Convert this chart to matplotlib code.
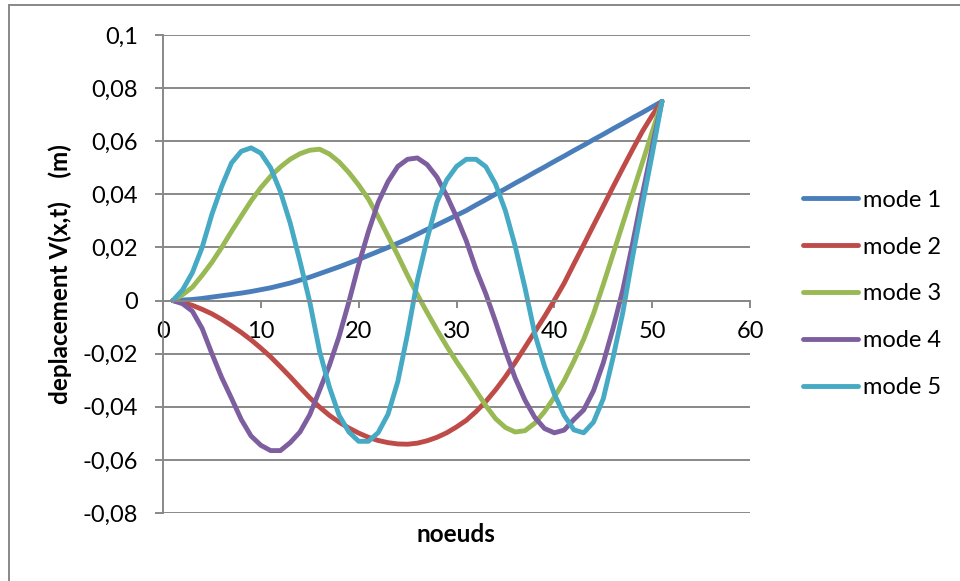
"""Deplacement V(x,t) des 5 premiers modes le long des noeuds."""

import matplotlib

matplotlib.use("Agg")
import matplotlib.pyplot as plt
from matplotlib.patches import Rectangle

plt.rcParams["font.family"] = ["Lato", "DejaVu Sans"]

# ---- donnees (noeuds 1 a 51) ----
NODES = list(range(1, 52))

MODE1_Y = [0.0, 0.0002, 0.0004, 0.0008, 0.0013, 0.0018, 0.0023, 0.0028, 0.0034, 0.0041,
           0.0048, 0.0057, 0.0066, 0.0077, 0.0088, 0.0101, 0.0114, 0.0127, 0.0141, 0.0155,
           0.0170, 0.0185, 0.0200, 0.0216, 0.0232, 0.0250, 0.0268, 0.0285, 0.0303, 0.0321,
           0.0339, 0.0360, 0.0380, 0.0401, 0.0421, 0.0442, 0.0462, 0.0483, 0.0503, 0.0524,
           0.0544, 0.0565, 0.0585, 0.0606, 0.0626, 0.0647, 0.0667, 0.0688, 0.0708, 0.0729,
           0.0750]

MODE2_Y = [0.0, -0.0008, -0.0018, -0.0033, -0.0050, -0.0071, -0.0095, -0.0120, -0.0148, -0.0179,
           -0.0212, -0.0249, -0.0287, -0.0327, -0.0366, -0.0401, -0.0432, -0.0458, -0.0480, -0.0499,
           -0.0515, -0.0527, -0.0535, -0.0540, -0.0541, -0.0537, -0.0528, -0.0515, -0.0498, -0.0476,
           -0.0451, -0.0418, -0.0380, -0.0336, -0.0287, -0.0233, -0.0176, -0.0118, -0.0060, 0.0001,
           0.0065, 0.0138, 0.0210, 0.0283, 0.0355, 0.0428, 0.0499, 0.0569, 0.0637, 0.0697,
           0.0750]

MODE3_Y = [0.0, 0.0022, 0.0050, 0.0095, 0.0144, 0.0200, 0.0260, 0.0318, 0.0375, 0.0425,
           0.0468, 0.0503, 0.0532, 0.0553, 0.0566, 0.0570, 0.0552, 0.0522, 0.0482, 0.0435,
           0.0382, 0.0315, 0.0243, 0.0170, 0.0094, 0.0022, -0.0045, -0.0110, -0.0172, -0.0230,
           -0.0284, -0.0340, -0.0396, -0.0445, -0.0478, -0.0495, -0.0490, -0.0462, -0.0418, -0.0364,
           -0.0302, -0.0228, -0.0146, -0.0050, 0.0060, 0.0175, 0.0290, 0.0405, 0.0520, 0.0635,
           0.0750]

MODE4_Y = [0.0, -0.0012, -0.0040, -0.0105, -0.0200, -0.0290, -0.0368, -0.0448, -0.0510, -0.0545,
           -0.0565, -0.0565, -0.0535, -0.0495, -0.0430, -0.0338, -0.0245, -0.0135, -0.0005, 0.0135,
           0.0260, 0.0370, 0.0448, 0.0505, 0.0532, 0.0537, 0.0512, 0.0465, 0.0395, 0.0315,
           0.0225, 0.0117, 0.0025, -0.0080, -0.0190, -0.0292, -0.0375, -0.0440, -0.0482, -0.0498,
           -0.0488, -0.0448, -0.0412, -0.0340, -0.0235, -0.0105, 0.0040, 0.0215, 0.0400, 0.0578,
           0.0750]

MODE5_Y = [0.0, 0.0040, 0.0105, 0.0200, 0.0325, 0.0430, 0.0518, 0.0562, 0.0575, 0.0555,
           0.0500, 0.0410, 0.0292, 0.0148, -0.0005, -0.0190, -0.0325, -0.0432, -0.0495, -0.0530,
           -0.0530, -0.0497, -0.0428, -0.0305, -0.0125, 0.0076, 0.0232, 0.0370, 0.0454, 0.0505,
           0.0532, 0.0532, 0.0504, 0.0438, 0.0338, 0.0205, 0.0048, -0.0125, -0.0248, -0.0352,
           -0.0432, -0.0487, -0.0498, -0.0458, -0.0370, -0.0215, -0.0045, 0.0165, 0.0360, 0.0550,
           0.0750]

MODE_LABELS = ["mode 1", "mode 2", "mode 3", "mode 4", "mode 5"]
MODE_COLORS = ["#4A7EBB", "#BE4B48", "#98B954", "#7D5FA0", "#46AAC5"]

X_TICKS = [0, 10, 20, 30, 40, 50, 60]
Y_TICKS = [-0.08, -0.06, -0.04, -0.02, 0.0, 0.02, 0.04, 0.06, 0.08, 0.1]
Y_TICK_LABELS = ["-0,08", "-0,06", "-0,04", "-0,02", "0", "0,02", "0,04", "0,06", "0,08", "0,1"]

GRID_COLOR = "#888888"
FONT_SIZE = 17


def main() -> None:
    fig = plt.figure(figsize=(9.6, 5.81), dpi=100)
    ax = fig.add_axes([163 / 960, 1 - 513 / 581, (750 - 163) / 960, (513 - 35) / 581])

    series = [MODE1_Y, MODE2_Y, MODE3_Y, MODE4_Y, MODE5_Y]
    for ys, label, color in zip(series, MODE_LABELS, MODE_COLORS):
        ax.plot(NODES, ys, color=color, linewidth=3.5, label=label,
                solid_capstyle="round", solid_joinstyle="round")

    ax.set_xlim(0, 60)
    ax.set_ylim(-0.08, 0.1)
    ax.set_xticks(X_TICKS)
    ax.set_yticks(Y_TICKS)
    ax.set_yticklabels(Y_TICK_LABELS)

    ax.yaxis.grid(True, color=GRID_COLOR, linewidth=1.4)
    ax.set_axisbelow(True)

    for side in ["top", "right"]:
        ax.spines[side].set_visible(False)
    ax.spines["bottom"].set_position(("data", 0))
    ax.spines["bottom"].set_color(GRID_COLOR)
    ax.spines["bottom"].set_linewidth(1.4)
    ax.spines["left"].set_color(GRID_COLOR)
    ax.spines["left"].set_linewidth(1.4)

    ax.tick_params(axis="x", direction="out", length=5, width=1.4, color=GRID_COLOR,
                   labelsize=FONT_SIZE, pad=10)
    ax.tick_params(axis="y", direction="out", length=6, width=1.4, color=GRID_COLOR,
                   labelsize=FONT_SIZE, pad=12)

    fig.text(456 / 960, 1 - 535 / 581, "noeuds", ha="center", va="center",
             fontsize=17.5, fontweight="bold")
    fig.text(60 / 960, 1 - 274 / 581, "deplacement V(x,t)    (m)", ha="center", va="center",
             rotation=90, fontsize=17.5, fontweight="bold")

    ax.legend(loc="center left", bbox_to_anchor=(803 / 960, 1 - 294 / 581),
              bbox_transform=fig.transFigure, frameon=False, fontsize=FONT_SIZE,
              handlelength=2.35, handletextpad=0.2, labelspacing=1.1,
              borderpad=0, borderaxespad=0)

    # cadre de la zone graphique (style tableur)
    fig.patches.append(Rectangle((9 / 960, -0.1), 1.2, 1.1 - 5 / 581, transform=fig.transFigure,
                                 fill=False, edgecolor=GRID_COLOR, linewidth=1.4))

    fig.savefig("out.png", dpi=100)
    plt.close(fig)


if __name__ == "__main__":
    main()
